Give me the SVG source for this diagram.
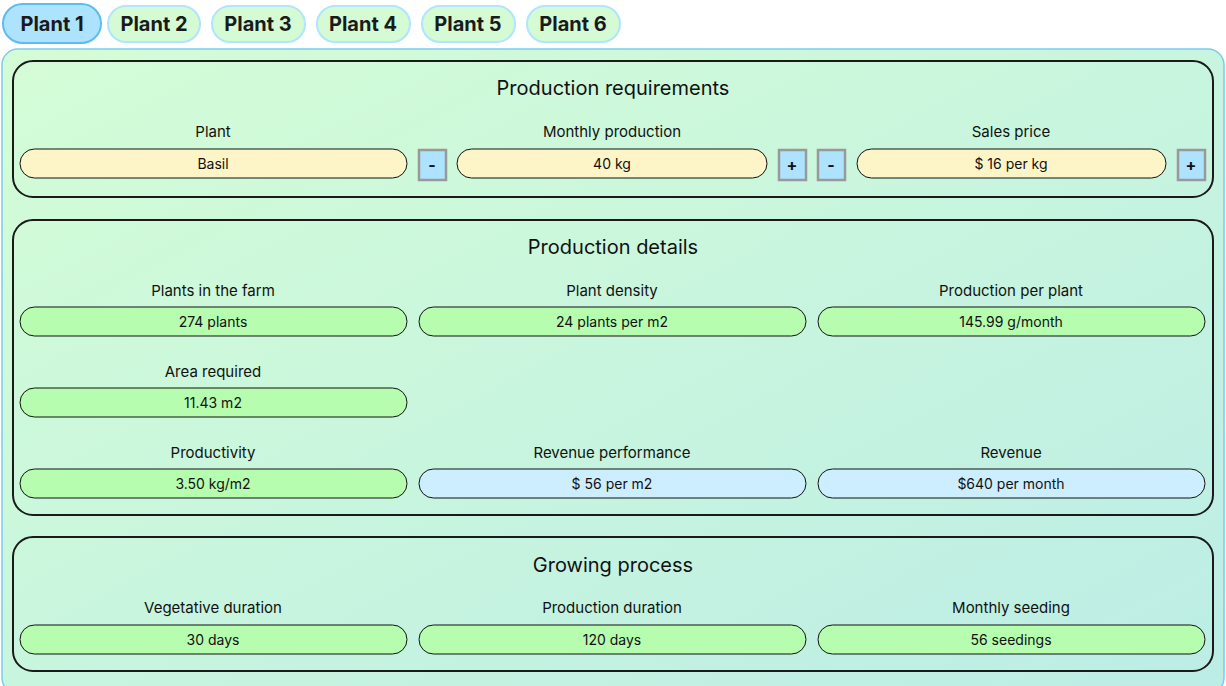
<svg xmlns="http://www.w3.org/2000/svg" width="1226" height="686" viewBox="0 0 1226 686">
<defs>
<linearGradient id="bg" x1="0" y1="0" x2="1" y2="1"><stop offset="0" stop-color="#d4fdd6"/><stop offset="1" stop-color="#bcede6"/></linearGradient>
<style>
text{font-family:Inter,"Noto Sans",sans-serif;fill:#111;text-anchor:middle}
.tab{fill:#d4fbd4;stroke:#b0e4ff;stroke-width:2}
.tabt{font-size:20px;font-weight:bold;fill:#1a1a1a}
.sec{fill:none;stroke:#1a1a1a;stroke-width:2}
.h{font-size:20px}
.l{font-size:15px}
.v{font-size:14px}
.y{fill:#fdf5c8;stroke:#111;stroke-width:1}
.g{fill:#b6fdb0;stroke:#111;stroke-width:1}
.b{fill:#cdeeff;stroke:#111;stroke-width:1}
.btn{fill:#aee3ff;stroke:#999;stroke-width:2.5}
.bt{font-size:16px;font-weight:bold}
</style>
</defs>
<rect width="1226" height="686" fill="#fff"/>
<g id="tabs">
<rect x="3" y="4" width="98" height="39" rx="19.5" fill="#aee3ff" stroke="#5bbcf0" stroke-width="2"/><text class="tabt" x="52" y="31">Plant 1</text>
<rect class="tab" x="108" y="6" width="92" height="36" rx="18"/><text class="tabt" x="154" y="31">Plant 2</text>
<rect class="tab" x="212" y="6" width="93" height="36" rx="18"/><text class="tabt" x="258" y="31">Plant 3</text>
<rect class="tab" x="317" y="6" width="93" height="36" rx="18"/><text class="tabt" x="363" y="31">Plant 4</text>
<rect class="tab" x="422" y="6" width="93" height="36" rx="18"/><text class="tabt" x="468" y="31">Plant 5</text>
<rect class="tab" x="527" y="6" width="93" height="36" rx="18"/><text class="tabt" x="573" y="31">Plant 6</text>
</g>
<rect x="2" y="49" width="1222" height="645" rx="16" fill="url(#bg)" stroke="#7ccbf0" stroke-width="1.5"/>
<g id="requirements">
<rect class="sec" x="13" y="61" width="1200" height="136" rx="20"/>
<text class="h" x="613" y="95">Production requirements</text>
<text class="l" x="213" y="137">Plant</text>
<text class="l" x="612" y="137">Monthly production</text>
<text class="l" x="1011" y="137">Sales price</text>
<rect class="y" x="20" y="149" width="387" height="29" rx="14.5"/><text class="v" x="213" y="169">Basil</text>
<rect class="btn" x="419" y="150" width="27" height="30"/><text class="bt" x="432" y="171">-</text>
<rect class="y" x="457" y="149" width="310" height="29" rx="14.5"/><text class="v" x="612" y="169">40 kg</text>
<rect class="btn" x="779" y="150" width="27" height="30"/><text class="bt" x="792" y="171">+</text>
<rect class="btn" x="818" y="150" width="27" height="30"/><text class="bt" x="831" y="171">-</text>
<rect class="y" x="857" y="149" width="309" height="29" rx="14.5"/><text class="v" x="1011" y="169">$ 16 per kg</text>
<rect class="btn" x="1178" y="150" width="27" height="30"/><text class="bt" x="1191" y="171">+</text>
</g>
<g id="details">
<rect class="sec" x="13" y="220" width="1200" height="295" rx="20"/>
<text class="h" x="613" y="254">Production details</text>
<text class="l" x="213" y="296">Plants in the farm</text>
<text class="l" x="612" y="296">Plant density</text>
<text class="l" x="1011" y="296">Production per plant</text>
<rect class="g" x="20" y="307" width="387" height="29" rx="14.5"/><text class="v" x="213" y="327">274 plants</text>
<rect class="g" x="419" y="307" width="387" height="29" rx="14.5"/><text class="v" x="612" y="327">24 plants per m2</text>
<rect class="g" x="818" y="307" width="387" height="29" rx="14.5"/><text class="v" x="1011" y="327">145.99 g/month</text>
<text class="l" x="213" y="377">Area required</text>
<rect class="g" x="20" y="388" width="387" height="29" rx="14.5"/><text class="v" x="213" y="408">11.43 m2</text>
<text class="l" x="213" y="458">Productivity</text>
<text class="l" x="612" y="458">Revenue performance</text>
<text class="l" x="1011" y="458">Revenue</text>
<rect class="g" x="20" y="469" width="387" height="29" rx="14.5"/><text class="v" x="213" y="489">3.50 kg/m2</text>
<rect class="b" x="419" y="469" width="387" height="29" rx="14.5"/><text class="v" x="612" y="489">$ 56 per m2</text>
<rect class="b" x="818" y="469" width="387" height="29" rx="14.5"/><text class="v" x="1011" y="489">$640 per month</text>
</g>
<g id="growing">
<rect class="sec" x="13" y="537" width="1200" height="134" rx="20"/>
<text class="h" x="613" y="572">Growing process</text>
<text class="l" x="213" y="613">Vegetative duration</text>
<text class="l" x="612" y="613">Production duration</text>
<text class="l" x="1011" y="613">Monthly seeding</text>
<rect class="g" x="20" y="625" width="387" height="29" rx="14.5"/><text class="v" x="213" y="645">30 days</text>
<rect class="g" x="419" y="625" width="387" height="29" rx="14.5"/><text class="v" x="612" y="645">120 days</text>
<rect class="g" x="818" y="625" width="387" height="29" rx="14.5"/><text class="v" x="1011" y="645">56 seedings</text>
</g>
<g id="connectors"/>
</svg>
